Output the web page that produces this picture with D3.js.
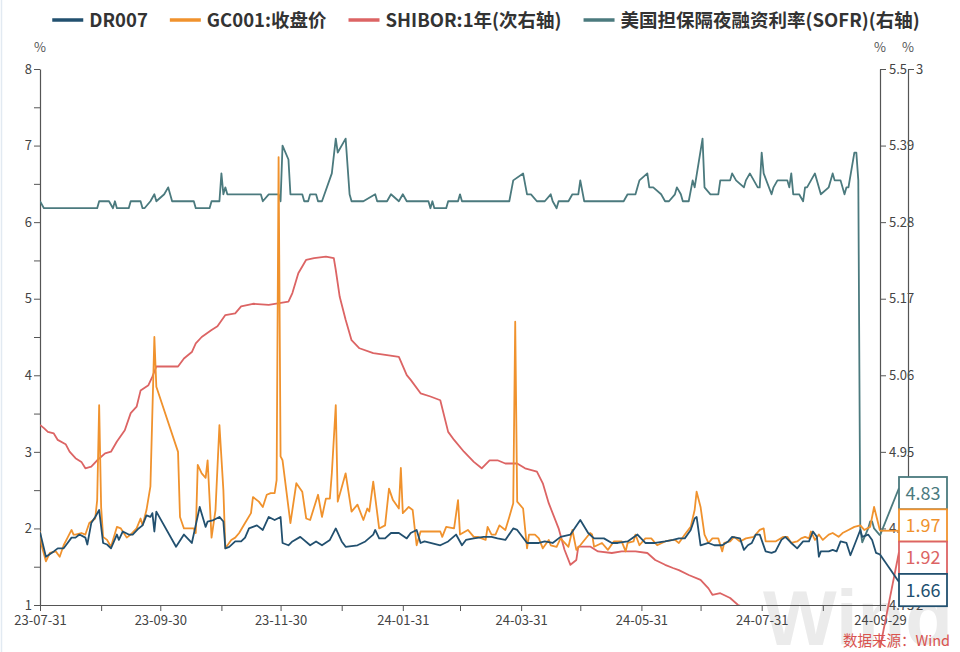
<!DOCTYPE html>
<html><head><meta charset="utf-8">
<script src="https://cdn.jsdelivr.net/npm/d3@7/dist/d3.min.js"></script>
<style>
html,body{margin:0;padding:0;background:#fff;}
svg{display:block;}
</style></head>
<body>
<svg id="chart" width="960" height="652"></svg>
<script>
// ---------------- data ----------------
const seriesNames = ["DR007", "GC001:收盘价", "SHIBOR:1年(次右轴)", "美国担保隔夜融资利率(SOFR)(右轴)"];
const seriesColors = ["#22506f", "#f0922d", "#dc6464", "#4b7a7e"];

const dr007 = [
["2023-07-31",1.95],["2023-08-03",1.63],["2023-08-07",1.70],["2023-08-09",1.74],["2023-08-12",1.74],["2023-08-14",1.81],
["2023-08-16",1.88],["2023-08-18",1.88],["2023-08-20",1.92],["2023-08-23",1.88],["2023-08-24",1.79],["2023-08-26",2.07],
["2023-08-28",2.15],["2023-08-30",2.24],["2023-09-01",1.81],["2023-09-03",1.79],["2023-09-05",1.74],["2023-09-08",1.92],
["2023-09-09",1.85],["2023-09-11",1.96],["2023-09-14",1.92],["2023-09-16",1.92],["2023-09-19",2.00],["2023-09-21",2.04],
["2023-09-23",2.17],["2023-09-25",2.15],["2023-09-26",2.20],["2023-09-27",1.96],["2023-09-28",2.22],["2023-10-08",1.76],
["2023-10-12",1.92],["2023-10-16",1.81],["2023-10-20",2.28],["2023-10-23",2.02],["2023-10-24",2.09],["2023-10-27",2.11],
["2023-10-30",2.15],["2023-11-01",2.09],["2023-11-02",1.74],["2023-11-04",1.76],["2023-11-07",1.83],["2023-11-10",1.83],
["2023-11-12",1.88],["2023-11-14",2.00],["2023-11-16",2.02],["2023-11-18",2.04],["2023-11-21",1.98],["2023-11-24",2.15],
["2023-11-27",2.11],["2023-11-30",2.15],["2023-12-01",1.81],["2023-12-04",1.78],["2023-12-06",1.83],["2023-12-10",1.89],
["2023-12-15",1.78],["2023-12-18",1.83],["2023-12-21",1.78],["2023-12-25",1.85],["2023-12-28",2.00],["2023-12-31",1.83],
["2024-01-02",1.76],["2024-01-08",1.78],["2024-01-12",1.83],["2024-01-16",1.92],["2024-01-17",1.98],["2024-01-19",1.87],
["2024-01-22",1.87],["2024-01-25",1.94],["2024-01-29",1.94],["2024-02-02",1.87],["2024-02-04",1.94],["2024-02-07",1.98],
["2024-02-09",1.81],["2024-02-11",1.83],["2024-02-19",1.78],["2024-02-23",1.83],["2024-02-27",1.92],["2024-03-01",1.78],
["2024-03-03",1.85],["2024-03-07",1.87],["2024-03-12",1.89],["2024-03-16",1.89],["2024-03-19",1.87],["2024-03-23",1.85],
["2024-03-27",2.00],["2024-03-29",1.98],["2024-04-03",1.81],["2024-04-09",1.81],["2024-04-12",1.83],["2024-04-16",1.81],
["2024-04-20",1.89],["2024-04-25",1.92],["2024-04-30",2.11],["2024-05-04",1.94],["2024-05-07",1.87],["2024-05-12",1.87],
["2024-05-16",1.81],["2024-05-19",1.81],["2024-05-24",1.83],["2024-05-29",1.92],["2024-06-02",1.81],["2024-06-07",1.81],
["2024-06-12",1.83],["2024-06-16",1.85],["2024-06-19",1.87],["2024-06-22",1.87],["2024-06-25",1.98],["2024-06-27",2.13],
["2024-06-28",2.15],["2024-06-30",1.78],["2024-07-04",1.81],["2024-07-07",1.78],["2024-07-11",1.78],["2024-07-14",1.83],
["2024-07-16",1.89],["2024-07-20",1.87],["2024-07-22",1.72],["2024-07-24",1.78],["2024-07-26",1.81],["2024-07-28",1.92],
["2024-07-30",1.92],["2024-08-02",1.70],["2024-08-05",1.68],["2024-08-07",1.70],["2024-08-10",1.85],["2024-08-12",1.89],
["2024-08-15",1.81],["2024-08-18",1.74],["2024-08-21",1.83],["2024-08-24",1.83],["2024-08-26",1.96],["2024-08-28",1.89],
["2024-08-29",1.63],["2024-08-30",1.70],["2024-09-03",1.70],["2024-09-05",1.72],["2024-09-07",1.70],["2024-09-09",1.83],
["2024-09-12",1.81],["2024-09-14",1.65],["2024-09-16",1.78],["2024-09-19",1.98],["2024-09-20",1.89],["2024-09-23",1.92],
["2024-09-25",1.85],["2024-09-27",1.68],["2024-09-29",1.66]
];

const gc001 = [
["2023-07-31",1.96],["2023-08-01",1.76],["2023-08-03",1.57],["2023-08-05",1.68],["2023-08-08",1.70],["2023-08-10",1.63],
["2023-08-12",1.78],["2023-08-14",1.88],["2023-08-16",1.98],["2023-08-17",1.92],["2023-08-18",1.92],["2023-08-21",1.94],
["2023-08-23",1.92],["2023-08-25",2.07],["2023-08-28",2.13],["2023-08-29",2.37],["2023-08-30",3.61],["2023-08-31",2.28],
["2023-09-01",1.89],["2023-09-03",1.85],["2023-09-05",1.76],["2023-09-08",2.02],["2023-09-10",2.00],["2023-09-13",1.88],
["2023-09-15",1.92],["2023-09-18",2.00],["2023-09-20",2.13],["2023-09-21",2.04],["2023-09-23",2.24],["2023-09-25",2.55],
["2023-09-27",4.50],["2023-09-28",3.85],["2023-10-09",3.00],["2023-10-10",2.15],["2023-10-12",2.00],["2023-10-17",2.00],
["2023-10-18",1.94],["2023-10-19",2.83],["2023-10-21",2.72],["2023-10-23",2.66],["2023-10-24",2.89],["2023-10-26",1.88],
["2023-10-28",2.24],["2023-10-30",3.35],["2023-11-01",2.50],["2023-11-02",1.74],["2023-11-05",1.85],["2023-11-07",1.88],
["2023-11-09",1.94],["2023-11-12",2.07],["2023-11-15",2.20],["2023-11-16",2.41],["2023-11-19",2.35],["2023-11-21",2.28],
["2023-11-23",2.44],["2023-11-25",2.46],["2023-11-27",2.46],["2023-11-28",2.63],["2023-11-29",6.85],["2023-11-30",2.94],
["2023-12-01",2.89],["2023-12-05",2.07],["2023-12-08",2.59],["2023-12-11",2.48],["2023-12-13",2.13],["2023-12-15",2.11],
["2023-12-19",2.44],["2023-12-21",2.15],["2023-12-23",2.39],["2023-12-25",2.39],["2023-12-26",2.72],["2023-12-28",3.61],
["2023-12-29",2.35],["2024-01-02",2.72],["2024-01-05",2.22],["2024-01-08",2.31],["2024-01-11",2.11],["2024-01-13",2.26],
["2024-01-14",2.22],["2024-01-16",2.61],["2024-01-19",2.00],["2024-01-22",2.04],["2024-01-24",2.52],["2024-01-26",2.37],
["2024-01-29",2.26],["2024-01-30",2.79],["2024-01-31",2.20],["2024-02-03",2.28],["2024-02-05",2.24],["2024-02-07",1.78],
["2024-02-09",1.96],["2024-02-19",1.96],["2024-02-20",1.89],["2024-02-22",2.02],["2024-02-26",2.00],["2024-02-28",2.37],
["2024-02-29",1.92],["2024-03-04",1.98],["2024-03-07",1.89],["2024-03-09",1.89],["2024-03-13",1.85],["2024-03-14",2.02],
["2024-03-16",1.92],["2024-03-18",1.92],["2024-03-20",2.04],["2024-03-23",1.98],["2024-03-25",2.15],["2024-03-27",2.33],
["2024-03-28",4.70],["2024-03-29",2.35],["2024-04-01",2.26],["2024-04-03",1.74],["2024-04-04",1.92],["2024-04-07",1.92],
["2024-04-09",1.87],["2024-04-11",1.74],["2024-04-14",1.85],["2024-04-15",1.78],["2024-04-18",1.76],["2024-04-20",1.87],
["2024-04-24",1.76],["2024-04-26",1.98],["2024-04-28",1.72],["2024-04-30",1.78],["2024-05-05",1.94],["2024-05-06",1.92],
["2024-05-07",1.76],["2024-05-11",1.81],["2024-05-14",1.72],["2024-05-17",1.83],["2024-05-21",1.83],["2024-05-23",1.70],
["2024-05-24",1.81],["2024-05-27",1.83],["2024-05-28",1.92],["2024-05-30",1.78],["2024-06-02",1.87],["2024-06-05",1.87],
["2024-06-08",1.78],["2024-06-12",1.83],["2024-06-16",1.85],["2024-06-17",1.85],["2024-06-19",1.81],["2024-06-22",1.92],
["2024-06-25",2.02],["2024-06-27",2.24],["2024-06-28",2.48],["2024-06-30",2.28],["2024-07-02",1.92],["2024-07-04",1.81],
["2024-07-06",1.87],["2024-07-09",1.87],["2024-07-11",1.70],["2024-07-12",1.81],["2024-07-15",1.83],["2024-07-17",1.89],
["2024-07-20",1.83],["2024-07-23",1.87],["2024-07-27",1.89],["2024-07-30",1.98],["2024-08-01",2.00],["2024-08-02",1.83],
["2024-08-07",1.83],["2024-08-11",1.89],["2024-08-13",1.89],["2024-08-15",1.81],["2024-08-18",1.83],["2024-08-20",1.87],
["2024-08-22",1.89],["2024-08-24",1.87],["2024-08-25",1.96],["2024-08-27",1.85],["2024-08-29",1.92],["2024-08-31",1.85],
["2024-09-03",1.92],["2024-09-05",1.94],["2024-09-08",1.89],["2024-09-10",1.94],["2024-09-13",1.98],["2024-09-16",2.02],
["2024-09-19",2.04],["2024-09-21",1.98],["2024-09-24",2.02],["2024-09-26",2.28],["2024-09-29",1.97]
];

const shibor1y = [
["2023-07-31",2.336],["2023-08-02",2.330],["2023-08-04",2.323],["2023-08-07",2.320],["2023-08-09",2.308],["2023-08-13",2.300],
["2023-08-15",2.286],["2023-08-18",2.274],["2023-08-21",2.267],["2023-08-23",2.255],["2023-08-26",2.258],["2023-08-29",2.270],
["2023-09-02",2.283],["2023-09-05",2.286],["2023-09-08",2.305],["2023-09-12",2.326],["2023-09-15",2.358],["2023-09-18",2.370],
["2023-09-20",2.400],["2023-09-24",2.410],["2023-09-26",2.426],["2023-09-28",2.445],["2023-10-09",2.445],["2023-10-12",2.460],
["2023-10-16",2.472],["2023-10-18",2.488],["2023-10-21",2.500],["2023-10-26",2.513],["2023-10-29",2.520],["2023-11-02",2.541],
["2023-11-07",2.544],["2023-11-10",2.557],["2023-11-16",2.562],["2023-11-24",2.560],["2023-12-04",2.566],["2023-12-06",2.582],
["2023-12-09",2.619],["2023-12-13",2.644],["2023-12-17",2.647],["2023-12-23",2.650],["2023-12-27",2.647],["2023-12-28",2.625],
["2023-12-30",2.575],["2024-01-02",2.532],["2024-01-05",2.494],["2024-01-09",2.479],["2024-01-16",2.470],["2024-01-23",2.466],
["2024-01-29",2.463],["2024-02-02",2.429],["2024-02-04",2.420],["2024-02-09",2.395],["2024-02-14",2.389],["2024-02-19",2.382],
["2024-02-23",2.323],["2024-02-26",2.308],["2024-03-02",2.286],["2024-03-07",2.267],["2024-03-11",2.255],["2024-03-15",2.270],
["2024-03-19",2.270],["2024-03-23",2.264],["2024-03-29",2.264],["2024-04-02",2.255],["2024-04-08",2.249],["2024-04-11",2.227],
["2024-04-14",2.190],["2024-04-19",2.143],["2024-04-22",2.103],["2024-04-25",2.075],["2024-04-28",2.084],["2024-04-29",2.109],
["2024-05-05",2.109],["2024-05-09",2.100],["2024-05-16",2.097],["2024-05-21",2.100],["2024-05-28",2.100],["2024-06-03",2.097],
["2024-06-07",2.084],["2024-06-12",2.075],["2024-06-16",2.069],["2024-06-19",2.065],["2024-06-24",2.056],["2024-06-30",2.047],
["2024-07-04",2.031],["2024-07-06",2.019],["2024-07-10",2.022],["2024-07-15",2.013],["2024-07-19",2.000],["2024-07-26",1.990],
["2024-08-09",1.970],["2024-08-23",1.960],["2024-09-06",1.940],["2024-09-20",1.930],["2024-09-29",1.920]
];

const sofr = [
["2023-07-31",5.31],["2023-08-02",5.30],["2023-08-29",5.30],["2023-08-30",5.31],["2023-09-04",5.31],["2023-09-06",5.30],
["2023-09-07",5.31],["2023-09-08",5.30],["2023-09-14",5.30],["2023-09-15",5.31],["2023-09-20",5.31],["2023-09-21",5.30],
["2023-09-22",5.30],["2023-09-25",5.31],["2023-09-27",5.32],["2023-09-28",5.31],["2023-10-02",5.32],["2023-10-04",5.33],
["2023-10-05",5.32],["2023-10-06",5.31],["2023-10-17",5.31],["2023-10-18",5.30],["2023-10-25",5.30],["2023-10-26",5.31],
["2023-10-30",5.31],["2023-10-31",5.35],["2023-11-01",5.32],["2023-11-02",5.33],["2023-11-03",5.32],["2023-11-20",5.32],
["2023-11-21",5.31],["2023-11-24",5.32],["2023-11-29",5.32],["2023-11-30",5.31],["2023-12-01",5.39],["2023-12-04",5.37],
["2023-12-05",5.32],["2023-12-11",5.32],["2023-12-12",5.31],["2023-12-14",5.31],["2023-12-15",5.32],["2023-12-18",5.32],
["2023-12-19",5.31],["2023-12-21",5.31],["2023-12-26",5.35],["2023-12-28",5.40],["2023-12-29",5.38],["2024-01-02",5.40],
["2024-01-04",5.32],["2024-01-05",5.31],["2024-01-11",5.31],["2024-01-17",5.32],["2024-01-18",5.31],["2024-01-23",5.31],
["2024-01-25",5.32],["2024-01-29",5.31],["2024-01-31",5.32],["2024-02-02",5.31],["2024-02-13",5.31],["2024-02-14",5.30],
["2024-02-15",5.31],["2024-02-16",5.30],["2024-02-22",5.30],["2024-02-23",5.31],["2024-02-28",5.31],["2024-02-29",5.32],
["2024-03-01",5.31],["2024-03-25",5.31],["2024-03-27",5.34],["2024-04-01",5.35],["2024-04-03",5.32],["2024-04-05",5.32],
["2024-04-08",5.31],["2024-04-12",5.31],["2024-04-15",5.32],["2024-04-16",5.31],["2024-04-18",5.30],["2024-04-19",5.31],
["2024-04-24",5.31],["2024-04-26",5.32],["2024-04-29",5.32],["2024-04-30",5.34],["2024-05-02",5.31],["2024-05-22",5.31],
["2024-05-24",5.32],["2024-05-28",5.32],["2024-05-29",5.33],["2024-05-30",5.34],["2024-06-03",5.35],["2024-06-04",5.33],
["2024-06-06",5.33],["2024-06-10",5.32],["2024-06-12",5.31],["2024-06-14",5.31],["2024-06-17",5.32],["2024-06-18",5.33],
["2024-06-20",5.32],["2024-06-21",5.31],["2024-06-24",5.31],["2024-06-26",5.34],["2024-06-27",5.33],["2024-07-01",5.40],
["2024-07-02",5.33],["2024-07-05",5.32],["2024-07-09",5.32],["2024-07-10",5.34],["2024-07-15",5.34],["2024-07-16",5.35],
["2024-07-18",5.34],["2024-07-22",5.33],["2024-07-23",5.34],["2024-07-25",5.35],["2024-07-29",5.33],["2024-07-30",5.33],
["2024-07-31",5.38],["2024-08-01",5.35],["2024-08-05",5.32],["2024-08-06",5.33],["2024-08-08",5.34],["2024-08-13",5.34],
["2024-08-14",5.33],["2024-08-15",5.35],["2024-08-16",5.32],["2024-08-19",5.32],["2024-08-21",5.31],["2024-08-22",5.33],
["2024-08-23",5.33],["2024-08-27",5.35],["2024-08-30",5.32],["2024-09-03",5.33],["2024-09-05",5.35],["2024-09-06",5.34],
["2024-09-09",5.34],["2024-09-11",5.32],["2024-09-12",5.33],["2024-09-13",5.33],["2024-09-16",5.38],["2024-09-17",5.38],
["2024-09-18",5.34],["2024-09-19",4.84],["2024-09-20",4.82],["2024-09-23",4.84],["2024-09-24",4.85],["2024-09-25",4.85],
["2024-09-26",4.84],["2024-09-29",4.83]
];

const leftTicks = [1,1.5,2,2.5,3,3.5,4,4.5,5,5.5,6,6.5,7,7.5,8];
const sofrTicks = [5.5,5.39,5.28,5.17,5.06,4.95,4.84,4.73];
const shiborTicks = [2,3];
const xTickDates = ["2023-07-31","2023-08-31","2023-09-30","2023-10-31","2023-11-30","2023-12-31","2024-01-31","2024-02-29",
                    "2024-03-31","2024-04-30","2024-05-31","2024-06-30","2024-07-31","2024-08-31","2024-09-29"];
const xTickLabels = ["23-07-31","","23-09-30","","23-11-30","","24-01-31","","24-03-31","","24-05-31","","24-07-31","","24-09-29"];
// end-value boxes, top to bottom: SOFR, GC001, SHIBOR, DR007
const boxSeries = [3, 1, 2, 0];
const boxLabels = ["4.83", "1.97", "1.92", "1.66"];
const sourceText = "数据来源：Wind";

// ---------------- chart ----------------
const parse = d3.timeParse("%Y-%m-%d");
const svg = d3.select("#chart");
const L = 40, R = 880, R2 = 908, T = 69, B = 605;
const FONT = "'Noto Sans CJK SC','Noto Sans',sans-serif";

const x = d3.scaleTime().domain([parse("2023-07-31"), parse("2024-09-29")]).range([L, R]);
const yL = d3.scaleLinear().domain([1, 8]).range([B, T]);
const yS = d3.scaleLinear().domain([4.73, 5.5]).range([B, T]);
const yH = d3.scaleLinear().domain([2, 3]).range([B, T]);

// faint frame line at left
svg.append("line").attr("x1",1.5).attr("x2",1.5).attr("y1",0).attr("y2",652).attr("stroke","#e2eaf2").attr("stroke-width",1.5);

// watermark
svg.append("text").attr("x", 763).attr("y", 645).attr("font-family","Liberation Sans, Arial, sans-serif")
  .attr("font-weight","bold").attr("font-size", 78).attr("fill", "#ebebeb").text("Wind");

// clip
svg.append("clipPath").attr("id","plot").append("rect").attr("x",L).attr("y",T-2).attr("width",R-L).attr("height",B-T+2);

function styleAxis(g){
  g.selectAll("path.domain").attr("stroke","#555").attr("stroke-width",1.2);
  g.selectAll(".tick line").attr("stroke","#555");
  g.selectAll(".tick text").attr("fill","#444").attr("font-size",13).attr("font-family",FONT);
}

// left axis
svg.append("g").attr("transform",`translate(${L},0)`)
  .call(d3.axisLeft(yL).tickValues(leftTicks).tickFormat(d => Number.isInteger(d) ? d : "").tickSize(6).tickSizeOuter(0).tickPadding(2))
  .call(styleAxis);
// SOFR axis
svg.append("g").attr("transform",`translate(${R},0)`)
  .call(d3.axisRight(yS).tickValues(sofrTicks).tickFormat(d => String(+d.toFixed(2))).tickSize(6).tickSizeOuter(0).tickPadding(3))
  .call(styleAxis);
// SHIBOR axis
svg.append("g").attr("transform",`translate(${R2},0)`)
  .call(d3.axisRight(yH).tickValues(shiborTicks).tickFormat(d3.format("d")).tickSize(6).tickSizeOuter(0).tickPadding(2))
  .call(styleAxis);
// x axis
svg.append("g").attr("transform",`translate(0,${B})`)
  .call(d3.axisBottom(x).tickValues(xTickDates.map(parse)).tickFormat((d,i) => xTickLabels[i]).tickSize(6).tickSizeOuter(0).tickPadding(5))
  .call(styleAxis);

// unit labels
[L, R, R2].forEach(px => {
  svg.append("text").attr("x",px).attr("y",52).attr("text-anchor","middle").attr("font-size",13)
    .attr("font-family",FONT).attr("fill","#555").text("%");
});

// lines
const plot = svg.append("g").attr("clip-path","url(#plot)");
const seriesData = [dr007, gc001, shibor1y, sofr];
const yScales = [yL, yL, yH, yS];
[3, 2, 1, 0].forEach(i => {
  const line = d3.line().x(d => x(parse(d[0]))).y(d => yScales[i](d[1]));
  plot.append("path").datum(seriesData[i]).attr("d", line).attr("fill","none")
    .attr("stroke", seriesColors[i]).attr("stroke-width", 1.8).attr("stroke-linejoin","round");
});

// end labels with leader lines
const boxX = 899, boxW = 48, boxH = 32.3, boxTop = 477;
const leaderTargetY = [488, null, 552, 582]; // null -> horizontal
boxSeries.forEach((si, k) => {
  const last = seriesData[si][seriesData[si].length - 1];
  const px = x(parse(last[0])), py = yScales[si](last[1]);
  const ty = leaderTargetY[k] === null ? py : leaderTargetY[k];
  svg.append("line").attr("x1", px).attr("y1", py).attr("x2", boxX).attr("y2", ty)
    .attr("stroke", seriesColors[si]).attr("stroke-width", 1.8);
});
boxSeries.forEach((si, k) => {
  const by = boxTop + k * boxH;
  svg.append("rect").attr("x", boxX).attr("y", by).attr("width", boxW).attr("height", boxH)
    .attr("fill","#fff").attr("stroke", seriesColors[si]).attr("stroke-width", 1.8);
  svg.append("text").attr("x", boxX + boxW/2).attr("y", by + boxH/2 + 6.5).attr("text-anchor","middle")
    .attr("font-size", 18).attr("font-family", FONT).attr("fill", seriesColors[si]).text(boxLabels[k]);
});

// legend
const lg = svg.append("g");
let cx = 0;
seriesNames.forEach((name, i) => {
  const g = lg.append("g").attr("transform", `translate(${cx},0)`);
  g.append("line").attr("x1",0).attr("x2",31).attr("y1",0).attr("y2",0).attr("stroke",seriesColors[i]).attr("stroke-width",3.5);
  const t = g.append("text").attr("x",37).attr("y",6.5).attr("font-size",18.5).attr("font-weight","bold")
    .attr("font-family",FONT).attr("fill","#333").text(name);
  cx += 37 + t.node().getComputedTextLength() + 22;
});
const total = cx - 22;
lg.attr("transform", `translate(${486 - total/2},20)`);

// source
svg.append("text").attr("x", 950).attr("y", 646).attr("text-anchor","end").attr("font-size",14.5)
  .attr("font-family",FONT).attr("fill","#d9534f").text(sourceText);
</script>
</body></html>
